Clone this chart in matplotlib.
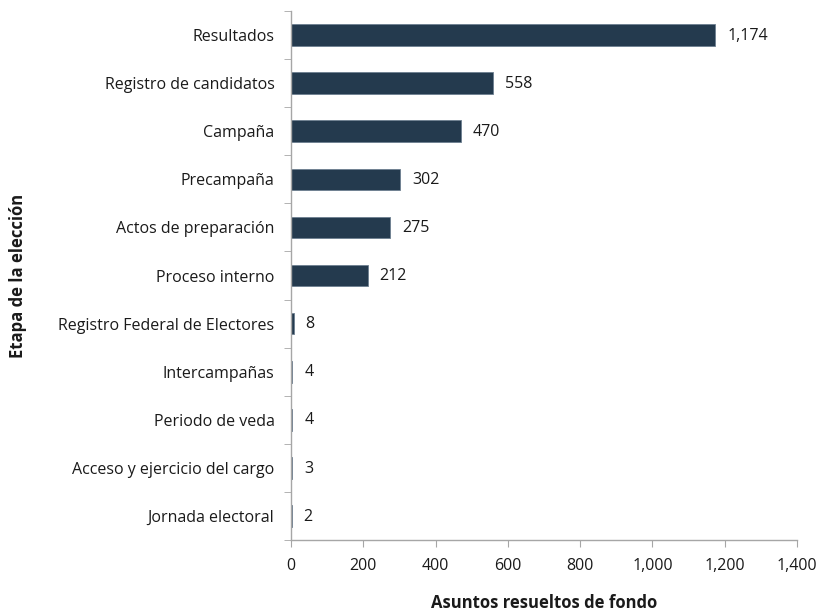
import matplotlib

matplotlib.use("Agg")
import matplotlib.pyplot as plt
from matplotlib.ticker import FuncFormatter, FixedLocator

plt.rcParams["font.family"] = ["Open Sans", "DejaVu Sans"]

categories = [
    "Resultados",
    "Registro de candidatos",
    "Campaña",
    "Precampaña",
    "Actos de preparación",
    "Proceso interno",
    "Registro Federal de Electores",
    "Intercampañas",
    "Periodo de veda",
    "Acceso y ejercicio del cargo",
    "Jornada electoral",
]
values = [1174, 558, 470, 302, 275, 212, 8, 4, 4, 3, 2]
x_ticks = [0, 200, 400, 600, 800, 1000, 1200, 1400]

bar_color = "#243a4e"
spine_color = "#a6a6a6"
text_color = "#1a1a1a"

fig = plt.figure(figsize=(8.21, 6.14), dpi=100)
ax = fig.add_axes([0.3545, 0.1205, 0.6163, 0.8615])

pos = list(range(len(categories)))
ax.barh(pos, values, height=0.45, color=bar_color, edgecolor="#6d7f90", linewidth=0.6)
ax.set_ylim(len(categories) - 0.5, -0.5)
ax.set_xlim(0, 1400)

ax.set_yticks(pos)
ax.set_yticklabels(categories, fontsize=11.5, color=text_color)
# Excel-style ticks between categories
ax.yaxis.set_minor_locator(FixedLocator([p - 0.5 for p in range(len(categories) + 1)]))
ax.tick_params(axis="y", which="major", length=0, pad=12)
ax.tick_params(axis="y", which="minor", length=5, color=spine_color)

ax.xaxis.set_major_locator(FixedLocator(x_ticks))
ax.xaxis.set_major_formatter(FuncFormatter(lambda v, _: f"{int(v):,}"))
ax.tick_params(axis="x", length=5, color=spine_color, labelsize=11.5, labelcolor=text_color, pad=8)

for side in ("top", "right"):
    ax.spines[side].set_visible(False)
for side in ("left", "bottom"):
    ax.spines[side].set_color(spine_color)
    ax.spines[side].set_linewidth(1.0)

for p, v in zip(pos, values):
    ax.annotate(f"{v:,}", (v, p), xytext=(8.5, -0.5), textcoords="offset points",
                va="center", ha="left", fontsize=11.5, color=text_color)

ax.set_xlabel("Asuntos resueltos de fondo", fontsize=12, fontweight="bold", labelpad=14, color=text_color)
fig.text(0.022, 0.1205 + 0.8615 / 2, "Etapa de la elección", rotation=90,
         ha="center", va="center", fontsize=12, fontweight="bold", color=text_color)

fig.savefig("out.png", dpi=100)
